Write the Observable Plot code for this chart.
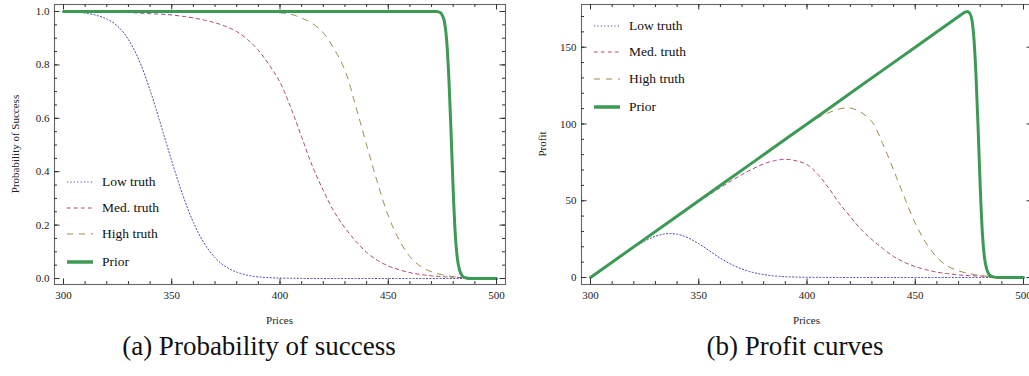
<!DOCTYPE html>
<html><head><meta charset="utf-8">
<script src="https://cdn.jsdelivr.net/npm/d3@7"></script>
<script src="https://cdn.jsdelivr.net/npm/@observablehq/plot@0.6"></script>
<style>
html,body{margin:0;padding:0;background:#fff;overflow:hidden;width:1029px;height:376px;}
#root{position:relative;width:1029px;height:376px;font-family:"Liberation Serif","Times New Roman",Times,serif;color:#111;}
.panel{position:absolute;top:0;}
.legend{position:absolute;font-size:13.5px;}
.legend .row{position:absolute;left:0;height:16px;line-height:16px;display:flex;align-items:center;white-space:nowrap;}
.legend .row svg{display:block;margin-right:9px;}
.caption{position:absolute;font-size:27px;line-height:27px;white-space:nowrap;transform:translateX(-50%);}
.alabel{position:absolute;font-size:11px;line-height:12px;white-space:nowrap;color:#222;}
</style>
</head><body><div id="root"></div>
<script>
// ---------- data ----------
const prices = [300,305,310,315,320,325,330,335,340,345,350,355,360,365,370,375,380,385,390,395,400,
                405,410,415,420,425,430,435,440,445,450,455,460,465,470,475,480,485,490,495,500];

// Probability of success
const lowTruthP  = [1.000,0.998,0.994,0.986,0.972,0.945,0.895,0.815,0.705,0.575,0.440,0.315,0.210,0.132,0.078,0.044,0.024,0.012,0.006,0.003,0.0015,
                    0.001,0.0005,0,0,0,0,0,0,0,0,0,0,0,0,0,0,0,0,0,0];
const medTruthP  = [1.000,1.000,0.999,0.999,0.998,0.997,0.996,0.994,0.992,0.990,0.987,0.982,0.976,0.968,0.958,0.944,0.925,0.895,0.855,0.800,0.735,
                    0.640,0.530,0.420,0.330,0.250,0.190,0.140,0.098,0.068,0.047,0.033,0.022,0.015,0.010,0.007,0.005,0.003,0.002,0.001,0.001];
const highTruthP = [1,1,1,1,1,1,1,1,1,1,1,1,1,1,1,1,1,1,0.999,0.998,0.995,
                    0.990,0.975,0.955,0.920,0.860,0.780,0.645,0.500,0.360,0.235,0.145,0.082,0.045,0.025,0.014,0.007,0.003,0.001,0,0];
const priorPrices = [300,325,350,375,400,425,450,470,472,473,474,475,476,477,478,479,480,481,482,483,484,485,486,488,490,495,500];
const priorP      = [1,1,1,1,1,1,1,1,1,0.999,0.996,0.985,0.960,0.890,0.750,0.550,0.330,0.160,0.070,0.030,0.012,0.005,0.002,0,0,0,0];

// Profit
const lowTruthProfit  = [0,4.99,9.94,14.8,19.4,23.6,26.9,28.5,28.2,25.9,22.0,17.3,12.6,8.6,5.5,3.3,1.9,1.0,0.5,0.3,0.15,
                         0.1,0.05,0,0,0,0,0,0,0,0,0,0,0,0,0,0,0,0,0,0];
const medTruthProfit  = [0,5.0,10.0,15.0,20.0,24.9,29.9,34.8,39.7,44.6,49.4,54.0,58.6,62.9,67.1,70.8,74.0,76.1,77.0,76.0,73.5,
                         67.2,58.3,48.3,39.6,31.3,24.7,18.9,13.7,9.9,7.1,5.1,3.5,2.5,1.7,1.2,0.9,0.6,0.4,0.2,0.2];
const highTruthProfit = [0,5,10,15,20,25,30,35,40,45,50,55,60,65,70,75,80,85,89.9,94.8,99.5,
                         104.0,107.3,109.8,110.4,107.5,101.4,87.1,70.0,52.2,35.3,22.5,13.1,7.4,4.3,2.5,1.3,0.6,0.2,0,0];
const priorProfit     = [0,25,50,75,100,125,150,170,172,172.8,173.3,172.4,169.0,157.5,133.5,98.5,59.4,29.0,12.7,5.5,2.2,0.9,0.4,0,0,0,0];

// ticks and labels
const xMajorTicks = [300,350,400,450,500];
const xMinorTicks = d3.range(300, 501, 10);
const probMajorTicks = [0,0.2,0.4,0.6,0.8,1.0];
const probMinorTicks = d3.range(0, 21).map(i => i*0.05);
const profitMajorTicks = [0,50,100,150];
const profitMinorTicks = d3.range(0, 171, 10);

const seriesNames = ["Low truth","Med. truth","High truth","Prior"];
const seriesColors = ["#4646b4","#a8447f","#9e8a4a","#3d9a55"];
const seriesDash = ["1.2,2.2","3.5,3.5","6,6",null];
const seriesWidth = [1,1,1,3];
const captions = ["(a) Probability of success","(b) Profit curves"];
const xLabel = "Prices";
const yLabels = ["Probability of Success","Profit"];

// ---------- drawing ----------
const root = document.getElementById("root");
const FONT = '"Liberation Serif","Times New Roman",Times,serif';

function table(xs, ys){ return xs.map((x,i)=>({price:x, value:ys[i]})); }

function addLabel(text, cx, cy, rotate){
  const el = document.createElement("div");
  el.className = "alabel";
  el.textContent = text;
  el.style.left = cx + "px";
  el.style.top = cy + "px";
  el.style.transform = "translate(-50%,-50%)" + (rotate ? " rotate(-90deg)" : "");
  root.appendChild(el);
}

function makePanel(o){
  const H = 330, mt = 4, mb = 46;
  const iw = o.width - o.ml - o.mr, ih = H - mt - mb;
  const tc = "#333";
  const data = [
    table(prices, o.vals[0]), table(prices, o.vals[1]), table(prices, o.vals[2]), table(priorPrices, o.vals[3])
  ];
  const lines = data.map((d,i)=>Plot.line(d, {
    x:"price", y:"value", stroke: seriesColors[i], strokeWidth: seriesWidth[i],
    strokeDasharray: seriesDash[i], curve: i===3 ? "monotone-x" : "catmull-rom"
  }));
  const svg = Plot.plot({
    width: o.width, height: H, marginTop: mt, marginBottom: mb, marginLeft: o.ml, marginRight: o.mr,
    x: {domain: [300 - 9/2.165, 500 + 9/2.165]},
    y: {domain: o.yDomain},
    style: {fontFamily: FONT, fontSize: "11px", color: "#222", background: "transparent", overflow: "visible"},
    marks: [
      ...lines,
      Plot.frame({stroke: "#666", strokeWidth: 1.1}),
      Plot.tickX(xMinorTicks, {insetTop: ih-3, stroke: tc}),
      Plot.tickX(xMajorTicks, {insetTop: ih-5.5, stroke: tc}),
      Plot.tickX(xMinorTicks, {insetBottom: ih-3, stroke: tc}),
      Plot.tickX(xMajorTicks, {insetBottom: ih-5.5, stroke: tc}),
      Plot.tickY(o.yMinor, {insetRight: iw-3, stroke: tc}),
      Plot.tickY(o.yMajor, {insetRight: iw-5.5, stroke: tc}),
      Plot.tickY(o.yMinor, {insetLeft: iw-3, stroke: tc}),
      Plot.tickY(o.yMajor, {insetLeft: iw-5.5, stroke: tc}),
      Plot.axisX({ticks: xMajorTicks, tickSize: 0, tickPadding: 7, tickFormat: d3.format("d"), label: null}),
      Plot.axisY({ticks: o.yMajor, tickSize: 0, tickPadding: 5, tickFormat: o.yFormat, label: null})
    ]
  });
  svg.classList.add("panel");
  svg.style.left = o.left + "px";
  root.appendChild(svg);

  // axis titles, centred on the frame
  const frameCx = o.left + o.ml + iw/2, frameCy = mt + ih/2;
  addLabel(xLabel, frameCx, 320, false);
  addLabel(o.yLabel, o.left + o.ml - o.yLabelOffset, frameCy, true);

  // legend
  const lg = document.createElement("div");
  lg.className = "legend";
  lg.style.left = o.legendX + "px";
  lg.style.top = "0px";
  seriesNames.forEach((name,i)=>{
    const row = document.createElement("div");
    row.className = "row";
    row.style.top = (o.legendY[i] - 8) + "px";
    const s = d3.create("svg").attr("width",26).attr("height",16);
    s.append("line").attr("x1",0).attr("x2",26).attr("y1",8).attr("y2",8)
      .attr("stroke",seriesColors[i]).attr("stroke-width", i===3 ? 3.5 : 1)
      .attr("stroke-dasharray", seriesDash[i]);
    row.appendChild(s.node());
    const t = document.createElement("span");
    t.textContent = name;
    row.appendChild(t);
    lg.appendChild(row);
  });
  root.appendChild(lg);

  const cap = document.createElement("div");
  cap.className = "caption";
  cap.textContent = o.caption;
  cap.style.left = o.captionX + "px";
  cap.style.top = "333px";
  root.appendChild(cap);
}

makePanel({
  left: 0, width: 515, ml: 54, mr: 10,
  yDomain: [-6/267, 1 + 7/267], yMajor: probMajorTicks, yMinor: probMinorTicks,
  yFormat: d3.format(".1f"), yLabel: yLabels[0], yLabelOffset: 39,
  vals: [lowTruthP, medTruthP, highTruthP, priorP],
  legendX: 67, legendY: [182,208,234,262],
  caption: captions[0], captionX: 259
});
makePanel({
  left: 520, width: 522, ml: 61, mr: 10,
  yDomain: [-7/1.5353, 273/1.5353], yMajor: profitMajorTicks, yMinor: profitMinorTicks,
  yFormat: d3.format("d"), yLabel: yLabels[1], yLabelOffset: 39,
  vals: [lowTruthProfit, medTruthProfit, highTruthProfit, priorProfit],
  legendX: 594, legendY: [26,52,79,107],
  caption: captions[1], captionX: 795
});
</script>
</body></html>
